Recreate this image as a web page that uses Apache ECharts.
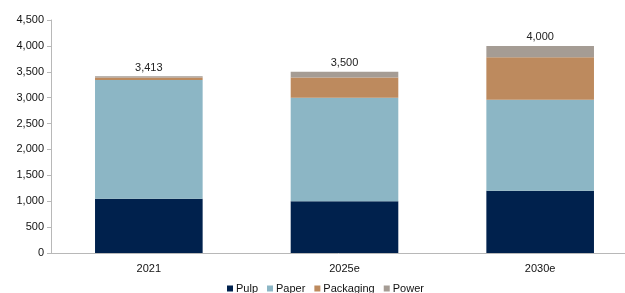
<!DOCTYPE html>
<html>
<head>
<meta charset="utf-8">
<script src="https://cdn.jsdelivr.net/npm/echarts@6/dist/echarts.min.js"></script>
<style>
  html, body { margin: 0; padding: 0; background: #fff; }
  #chart { width: 625px; height: 293px; }
</style>
</head>
<body>
<div id="chart"></div>
<script>
  var categories = ['2021', '2025e', '2030e'];
  var pulp = [1050, 1000, 1200];
  var paper = [2290, 2000, 1760];
  var packaging = [48, 390, 820];
  var power = [25, 110, 220];
  var totals = [3413, 3500, 4000];

  var myChart = echarts.init(document.getElementById('chart'));
  var font = 'Liberation Sans, Arial, sans-serif';

  function seg(name, data, color) {
    return {
      name: name,
      type: 'bar',
      stack: 'total',
      data: data,
      barWidth: '55%',
      itemStyle: { color: color }
    };
  }

  var series = [
    seg('Pulp', pulp, '#00214d'),
    seg('Paper', paper, '#8cb6c5'),
    seg('Packaging', packaging, '#bd8a5e'),
    seg('Power', power, '#a59c94')
  ];
  // total on top of the stack
  series[3].label = {
    show: true,
    position: 'top',
    distance: 3,
    color: '#222',
    fontFamily: font,
    fontSize: 11,
    formatter: function (p) {
      return totals[p.dataIndex].toLocaleString('en-US');
    }
  };

  var option = {
    animation: false,
    textStyle: { fontFamily: font },
    grid: { left: 51, width: 587, top: 20, bottom: 40, outerBoundsMode: 'none', containLabel: false },
    legend: {
      bottom: -6,
      left: 222,
      itemWidth: 6,
      itemHeight: 6,
      itemGap: 9,
      icon: 'rect',
      textStyle: { fontSize: 11, color: '#111', fontFamily: font, padding: [0, 0, 0, -2] },
      data: ['Pulp', 'Paper', 'Packaging', 'Power']
    },
    xAxis: {
      type: 'category',
      data: categories,
      axisLine: { lineStyle: { color: '#b8b8b8', width: 1 } },
      axisTick: { show: false },
      axisLabel: { color: '#111', fontSize: 11, margin: 10, fontFamily: font }
    },
    yAxis: {
      type: 'value',
      min: 0,
      max: 4500,
      interval: 500,
      axisLine: { show: true, lineStyle: { color: '#b8b8b8' } },
      axisTick: { show: true, length: 4, lineStyle: { color: '#b8b8b8' } },
      splitLine: { show: false },
      axisLabel: {
        color: '#111',
        fontSize: 11,
        margin: 7,
        fontFamily: font,
        formatter: function (v) { return v.toLocaleString('en-US'); }
      }
    },
    series: series
  };
  myChart.setOption(option);
</script>
</body>
</html>
